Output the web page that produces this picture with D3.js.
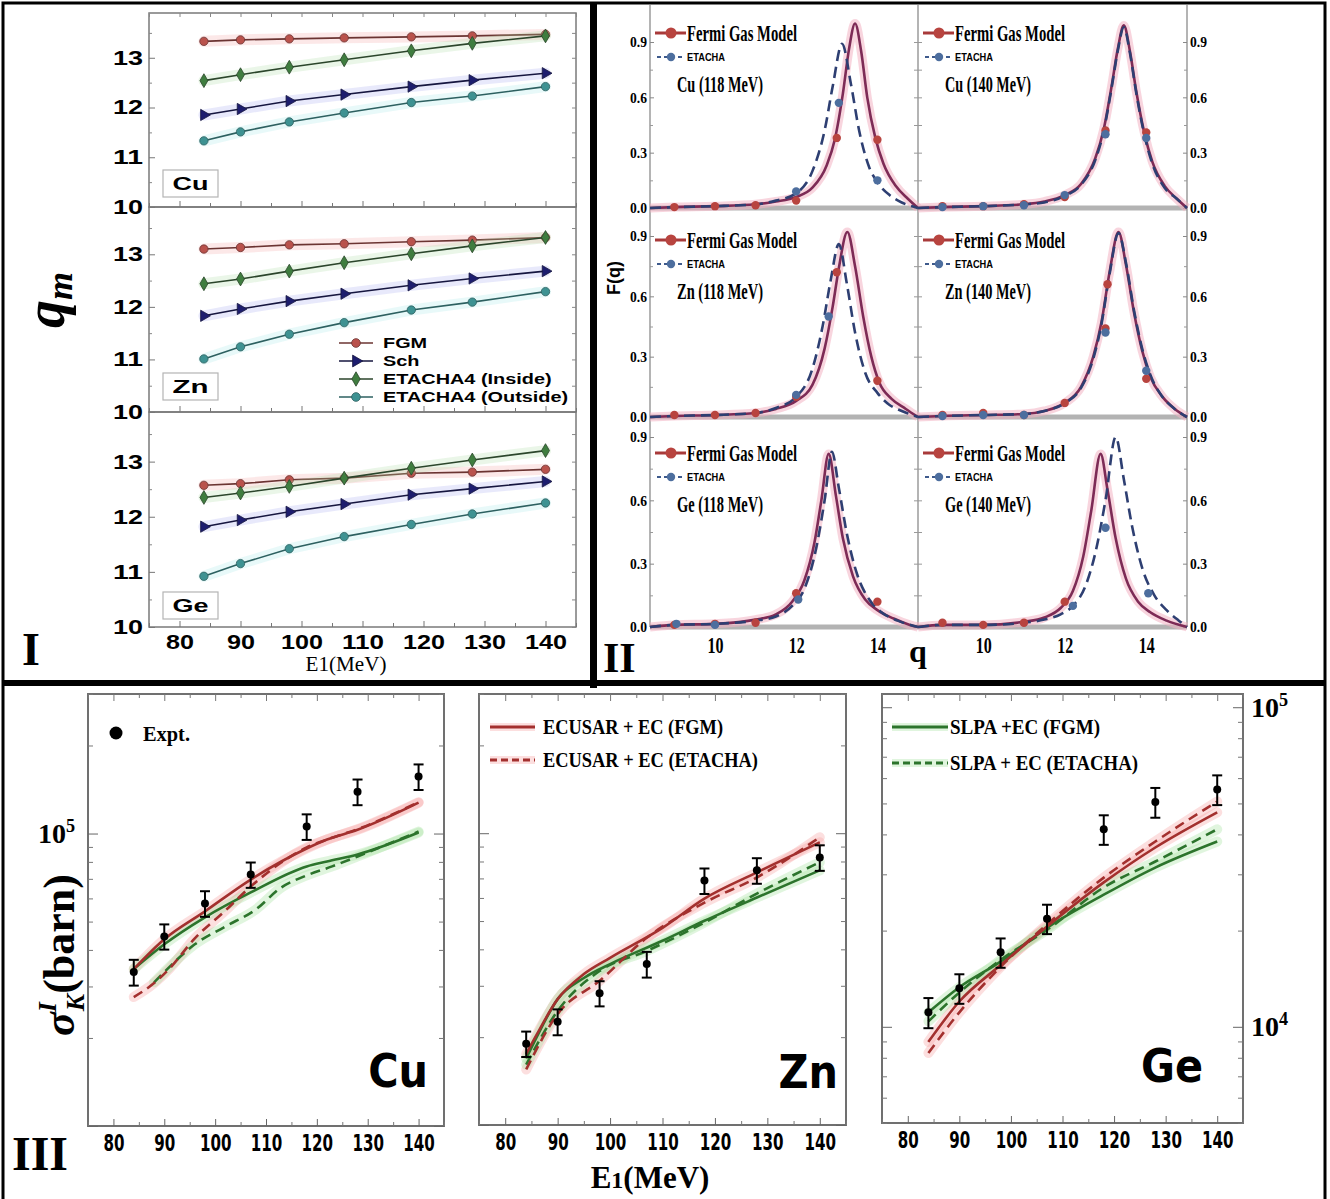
<!DOCTYPE html>
<html>
<head>
<meta charset="utf-8">
<title>q_m, F(q) and sigma_K</title>
<script src="https://cdn.jsdelivr.net/npm/d3@7/dist/d3.min.js"></script>
<style>
  body { margin: 0; background: #fff; }
  svg { display: block; }
</style>
</head>
<body>
<div id="fig"></div>
<script>
// ---------- panel I : mean charge state q_m vs E1 ----------
const energies = [84, 90, 98, 107, 118, 128, 140];
const qmSeries = ["FGM", "Sch", "ETACHA4 (Inside)", "ETACHA4 (Outside)"];
const qmCuFGM = [13.33, 13.36, 13.38, 13.40, 13.42, 13.44, 13.47];
const qmCuSch = [11.85, 11.97, 12.13, 12.26, 12.42, 12.55, 12.69];
const qmCuIn  = [12.54, 12.66, 12.81, 12.96, 13.14, 13.29, 13.44];
const qmCuOut = [11.33, 11.51, 11.71, 11.89, 12.10, 12.23, 12.42];
const qmZnFGM = [13.10, 13.13, 13.18, 13.20, 13.24, 13.27, 13.32];
const qmZnSch = [11.83, 11.96, 12.11, 12.25, 12.41, 12.54, 12.68];
const qmZnIn  = [12.44, 12.53, 12.68, 12.84, 13.01, 13.16, 13.32];
const qmZnOut = [11.01, 11.24, 11.48, 11.70, 11.94, 12.09, 12.29];
const qmGeFGM = [12.57, 12.60, 12.67, 12.70, 12.79, 12.81, 12.86];
const qmGeSch = [11.82, 11.94, 12.09, 12.23, 12.40, 12.51, 12.64];
const qmGeIn  = [12.35, 12.43, 12.55, 12.70, 12.88, 13.03, 13.20];
const qmGeOut = [10.92, 11.15, 11.42, 11.64, 11.86, 12.05, 12.25];
const eTicks = [80, 90, 100, 110, 120, 130, 140];
const eMinor = [75, 85, 95, 105, 115, 125, 135, 145];
const qmTicks = [10, 11, 12, 13];
const qmMinor = [10.5, 11.5, 12.5, 13.5];

// ---------- panel II : charge state fractions F(q) ----------
const fTicks = [0, 0.3, 0.6, 0.9];
const fMinor = [0.15, 0.45, 0.75];
const qTicks = [10, 12, 14];
const fqTags = ["Cu (118 MeV)", "Cu (140 MeV)", "Zn (118 MeV)", "Zn (140 MeV)", "Ge (118 MeV)", "Ge (140 MeV)"];
const fqCu118Fgm = [[8.4,0],[9,0.005],[10,0.01],[11,0.02],[11.5,0.035],[12,0.06],[12.4,0.11],[12.75,0.23],[12.95,0.37],[13.15,0.62],[13.3,0.86],[13.45,1.0],[13.6,0.85],[13.75,0.6],[13.95,0.38],[14.15,0.24],[14.45,0.12],[14.75,0.05],[15,0]];
const fqCu118Eta = [[8.4,0],[9,0.005],[10,0.01],[11,0.02],[11.5,0.04],[12,0.08],[12.4,0.2],[12.7,0.42],[12.9,0.66],[13.13,0.89],[13.35,0.67],[13.55,0.42],[13.8,0.22],[14,0.14],[14.3,0.07],[14.6,0.03],[15,0]];
const ptCu118Fgm = [[9,0.005],[10,0.01],[11,0.015],[12,0.04],[13,0.38],[14,0.37]];
const ptCu118Eta = [[12,0.09],[13.05,0.57],[14,0.15]];
const fqCu140Fgm = [[8.4,0],[9,0.005],[10,0.01],[11,0.02],[11.5,0.035],[12,0.07],[12.4,0.13],[12.75,0.27],[12.95,0.42],[13.15,0.66],[13.3,0.86],[13.45,0.99],[13.6,0.85],[13.75,0.64],[13.95,0.41],[14.15,0.25],[14.45,0.12],[14.75,0.05],[15,0]];
const fqCu140Eta = [[8.4,0],[9,0.005],[10,0.01],[11,0.02],[11.5,0.03],[12,0.065],[12.4,0.125],[12.75,0.26],[12.95,0.41],[13.15,0.65],[13.3,0.85],[13.45,0.98],[13.6,0.84],[13.75,0.63],[13.95,0.4],[14.15,0.24],[14.45,0.11],[14.75,0.05],[15,0]];
const ptCu140Fgm = [[9,0.01],[10,0.01],[11,0.02],[12,0.06],[13,0.42],[14,0.41]];
const ptCu140Eta = [[9,0.005],[10,0.01],[11,0.015],[12,0.07],[13,0.4],[14,0.38]];
const fqZn118Fgm = [[8.4,0],[9,0.005],[10,0.01],[11,0.02],[11.5,0.04],[12,0.08],[12.4,0.16],[12.7,0.34],[12.9,0.55],[13.05,0.74],[13.26,0.92],[13.45,0.75],[13.65,0.5],[13.85,0.3],[14.05,0.17],[14.35,0.09],[14.7,0.04],[15,0]];
const fqZn118Eta = [[8.4,0],[9,0.005],[10,0.01],[11,0.02],[11.5,0.045],[12,0.1],[12.4,0.24],[12.65,0.45],[12.85,0.68],[13.05,0.86],[13.25,0.66],[13.45,0.42],[13.7,0.22],[14,0.12],[14.3,0.06],[14.6,0.03],[15,0]];
const ptZn118Fgm = [[9,0.01],[10,0.01],[11,0.02],[12,0.1],[13,0.72],[14,0.18]];
const ptZn118Eta = [[12,0.11],[12.8,0.5]];
const fqZn140Fgm = [[8.4,0],[9,0.005],[10,0.01],[11,0.015],[11.5,0.03],[12,0.07],[12.4,0.15],[12.7,0.3],[12.9,0.47],[13.1,0.72],[13.32,0.92],[13.5,0.76],[13.7,0.52],[13.9,0.33],[14.1,0.2],[14.4,0.1],[14.7,0.04],[15,0]];
const fqZn140Eta = [[8.4,0],[9,0.005],[10,0.01],[11,0.015],[11.5,0.03],[12,0.068],[12.4,0.145],[12.7,0.29],[12.9,0.46],[13.1,0.71],[13.32,0.915],[13.5,0.77],[13.7,0.53],[13.9,0.34],[14.1,0.21],[14.4,0.1],[14.7,0.04],[15,0]];
const ptZn140Fgm = [[9,0.01],[10,0.02],[11,0.01],[12,0.07],[13,0.44],[13.05,0.66],[14,0.19]];
const ptZn140Eta = [[9,0.005],[10,0.01],[11,0.01],[13,0.42],[14,0.23]];
const fqGe118Fgm = [[8.4,0],[9,0.01],[10,0.015],[11,0.035],[11.5,0.06],[11.9,0.12],[12.2,0.22],[12.45,0.4],[12.62,0.6],[12.8,0.82],[12.98,0.62],[13.15,0.42],[13.4,0.24],[13.7,0.13],[14,0.08],[14.4,0.04],[14.8,0.01],[15,0]];
const fqGe118Eta = [[8.4,0],[9,0.01],[10,0.015],[11,0.03],[11.5,0.05],[11.9,0.1],[12.2,0.18],[12.5,0.38],[12.7,0.6],[12.88,0.83],[13.05,0.66],[13.25,0.44],[13.5,0.25],[13.8,0.13],[14.1,0.07],[14.5,0.03],[15,0]];
const ptGe118Fgm = [[9,0.01],[10,0.015],[11,0.02],[12,0.16],[14,0.12]];
const ptGe118Eta = [[9.05,0.015],[10,0.01],[12.05,0.13]];
const fqGe140Fgm = [[8.4,0],[9,0.01],[10,0.01],[11,0.025],[11.5,0.045],[11.9,0.09],[12.2,0.17],[12.45,0.33],[12.65,0.55],[12.88,0.82],[13.05,0.65],[13.25,0.42],[13.5,0.23],[13.8,0.12],[14.1,0.07],[14.5,0.03],[15,0]];
const fqGe140Eta = [[8.4,0],[9,0.01],[10,0.01],[11,0.02],[11.5,0.035],[11.9,0.06],[12.2,0.1],[12.5,0.19],[12.75,0.35],[13,0.6],[13.25,0.9],[13.45,0.7],[13.65,0.48],[13.9,0.28],[14.2,0.15],[14.5,0.08],[14.8,0.03],[15,0]];
const ptGe140Fgm = [[9,0.02],[10,0.01],[11,0.02],[12,0.12]];
const ptGe140Eta = [[12.2,0.1],[13,0.47],[14.05,0.16]];

// ---------- panel III : K-shell ionisation cross sections (barn) ----------
const expCu = [33600, 44500, 57700, 72400, 105700, 139000, 156600];
const errCu = [3400, 4400, 5800, 7200, 10600, 14000, 15700];
const cuEcusarFgm = [[84,34400],[90,43500],[98,54200],[107,69600],[118,88900],[122,95400],[128,103000],[140,127500]];
const cuEcusarEta = [[84,27600],[88,30800],[91,34500],[96,43800],[102,54500],[107,65900],[113,79600],[118,89600],[122,95400],[128,103500],[140,128000]];
const cuSlpaFgm = [[84,34400],[90,41800],[98,51700],[107,62900],[118,77200],[122,80300],[128,84800],[140,100800]];
const cuSlpaEta = [[88,31000],[90,33600],[96,41800],[102,48100],[108,55000],[113,65400],[118,71900],[123,77200],[128,83500],[140,101600]];
const expZn = [19000, 22600, 28300, 35600, 68800, 74600, 82600];
const errZn = [1900, 2300, 2800, 3600, 6900, 7500, 8300];
const znEcusarFgm = [[84,17500],[86,20400],[90,27000],[95,32900],[100,37400],[110,47400],[118,59700],[128,73400],[140,93100]];
const znEcusarEta = [[84,15500],[90,24000],[98,31200],[107,43800],[118,57800],[128,70500],[140,96900]];
const znSlpaFgm = [[84,16900],[86,20000],[90,27000],[95,31900],[100,35600],[110,42800],[118,50100],[128,60200],[140,74600]];
const znSlpaEta = [[84,16100],[90,24600],[98,33700],[107,39500],[118,49400],[128,62100],[140,79500]];
const expGe = [11100, 13200, 17100, 21800, 41500, 50500, 55300];
const errGe = [1200, 1400, 1800, 2300, 4400, 5400, 5900];
const geEcusarFgm = [[84,8970],[90,12000],[98,15600],[107,20600],[118,28300],[128,36400],[140,46900]];
const geEcusarEta = [[84,8280],[90,11100],[98,15400],[107,20900],[118,29300],[128,38000],[140,50700]];
const geSlpaFgm = [[84,11100],[90,13300],[98,16000],[107,20400],[118,25900],[128,31500],[140,38000]];
const geSlpaEta = [[84,10400],[90,12800],[98,16200],[107,20100],[118,27300],[128,32900],[140,41500]];
const modelNames = ["ECUSAR + EC (FGM)", "ECUSAR + EC (ETACHA)", "SLPA +EC (FGM)", "SLPA + EC (ETACHA)"];

// ---------- setup ----------
const width = 1330, height = 1199;
const serif = "'Liberation Serif', 'Times New Roman', serif";
const sans = "'Liberation Sans', Arial, sans-serif";
const narrow = "'Liberation Sans Narrow', 'Arial Narrow', 'DejaVu Sans Condensed', sans-serif";

const svg = d3.select("#fig").append("svg")
    .attr("width", width)
    .attr("height", height);
svg.append("rect").attr("width", width).attr("height", height).attr("fill", "white");

// plain text helper, len squeezes/stretches to a given width
function txt(g, x, y, s, size, font, opt = {}) {
  const t = g.append("text").attr("x", x).attr("y", y).text(s)
      .attr("font-size", size).attr("font-family", font)
      .attr("font-weight", opt.weight || "bold")
      .attr("text-anchor", opt.anchor || "start")
      .attr("fill", opt.color || "black");
  if (opt.len) t.attr("textLength", opt.len).attr("lengthAdjust", "spacingAndGlyphs");
  return t;
}
function cleanAxis(g, color) {
  g.select(".domain").remove();
  g.selectAll(".tick line").attr("stroke", color);
  return g;
}

// =================== PANEL I ===================
const gI = svg.append("g");
const xI = d3.scaleLinear().domain([75, 145]).range([149, 576]);
const qmPanels = [
  {el: "Cu", top: 13, bottom: 207, tagY: 170, series: [qmCuFGM, qmCuSch, qmCuIn, qmCuOut]},
  {el: "Zn", top: 207, bottom: 412, tagY: 373, series: [qmZnFGM, qmZnSch, qmZnIn, qmZnOut]},
  {el: "Ge", top: 412, bottom: 627, tagY: 592, series: [qmGeFGM, qmGeSch, qmGeIn, qmGeOut]}
];
const qmLook = [
  {fill: "#b9524c", line: "#6b3432", halo: "#f4a4a4", sym: d3.symbolCircle, rot: 0},
  {fill: "#1d1d6e", line: "#16163f", halo: "#a4a8f0", sym: d3.symbolTriangle, rot: 90},
  {fill: "#3f7d3f", line: "#2b452b", halo: "#acdca4", sym: d3.symbolDiamond, rot: 0},
  {fill: "#3e9292", line: "#2d6060", halo: "#a4e6e8", sym: d3.symbolCircle, rot: 0}
];

qmPanels.forEach((p, pi) => {
  const y = d3.scaleLinear().domain([10, 13.9]).range([p.bottom, p.top]);
  const g = gI.append("g");

  g.append("rect").attr("x", 149).attr("y", p.top).attr("width", 427).attr("height", p.bottom - p.top)
      .attr("fill", "none").attr("stroke", "#7a7a7a").attr("stroke-width", 1.5);

  // inward ticks on all sides
  cleanAxis(g.append("g").attr("transform", "translate(149,0)")
      .call(d3.axisLeft(y).tickValues(qmMinor).tickSize(-3).tickFormat("")), "#888");
  cleanAxis(g.append("g").attr("transform", "translate(576,0)")
      .call(d3.axisRight(y).tickValues(qmTicks.concat(qmMinor)).tickSize(-4).tickFormat("")), "#888");
  cleanAxis(g.append("g").attr("transform", `translate(0,${p.bottom})`)
      .call(d3.axisBottom(xI).tickValues(eMinor).tickSize(-4).tickFormat("")), "#777");
  const yAx = cleanAxis(g.append("g").attr("transform", "translate(149,0)")
      .call(d3.axisLeft(y).tickValues(qmTicks).tickSize(-6).tickPadding(6).tickFormat(d3.format("d"))), "#777");
  yAx.selectAll("text").attr("font-family", sans).attr("font-weight", "bold").attr("font-size", 20)
      .attr("textLength", d => String(d).length * 15).attr("lengthAdjust", "spacingAndGlyphs");
  const xAx = cleanAxis(g.append("g").attr("transform", `translate(0,${p.bottom})`)
      .call(d3.axisBottom(xI).tickValues(eTicks).tickSize(-6).tickPadding(7)
        .tickFormat(pi === 2 ? d3.format("d") : "")), "#777");
  xAx.selectAll("text").attr("font-family", sans).attr("font-weight", "bold").attr("font-size", 21)
      .attr("textLength", d => String(d).length * 14).attr("lengthAdjust", "spacingAndGlyphs");
  if (pi === 0) {
    cleanAxis(g.append("g").attr("transform", `translate(0,${p.top})`)
        .call(d3.axisTop(xI).tickValues(eTicks.concat(eMinor)).tickSize(-4).tickFormat("")), "#888");
  }

  // series
  p.series.forEach((vals, si) => {
    const look = qmLook[si];
    const line = d3.line().x((d, i) => xI(energies[i])).y(d => y(d));
    g.append("path").attr("d", line(vals)).attr("fill", "none")
        .attr("stroke", look.halo).attr("stroke-width", 11).attr("stroke-opacity", 0.25)
        .attr("stroke-linecap", "round");
    g.append("path").attr("d", line(vals)).attr("fill", "none")
        .attr("stroke", look.line).attr("stroke-width", 1.6);
    g.selectAll(null).data(vals).join("path")
        .attr("d", d3.symbol(look.sym, 55))
        .attr("transform", (d, i) => `translate(${xI(energies[i])},${y(d)}) rotate(${look.rot})`)
        .attr("fill", look.fill).attr("stroke", look.line).attr("stroke-width", 0.8);
  });

  // element tag box
  g.append("rect").attr("x", 163).attr("y", p.tagY).attr("width", 55).attr("height", 27)
      .attr("fill", "white").attr("stroke", "#b4b4b4").attr("stroke-width", 1.2);
  txt(g, 190.5, p.tagY + 20, p.el, 18, sans, {anchor: "middle", len: 36});

  // legend sits in the Zn frame
  if (pi === 1) {
    qmSeries.forEach((name, si) => {
      const look = qmLook[si];
      const ly = 343 + si * 18;
      g.append("line").attr("x1", 339).attr("x2", 373).attr("y1", ly).attr("y2", ly)
          .attr("stroke", look.line).attr("stroke-width", 1.6);
      g.append("path").attr("d", d3.symbol(look.sym, 60))
          .attr("transform", `translate(356,${ly}) rotate(${look.rot})`)
          .attr("fill", look.fill).attr("stroke", look.line).attr("stroke-width", 0.8);
      const t = txt(g, 383, ly + 5, name, 14, sans);
      t.attr("textLength", t.node().getComputedTextLength() * 1.42).attr("lengthAdjust", "spacingAndGlyphs");
    });
  }
});

const qmLab = gI.append("text").attr("transform", "translate(64,300) rotate(-90)")
    .attr("text-anchor", "middle").attr("font-family", serif).attr("font-weight", "bold")
    .attr("font-style", "italic").attr("font-size", 56);
qmLab.append("tspan").text("q");
qmLab.append("tspan").attr("font-size", 36).attr("dy", 8).text("m");
txt(gI, 22, 665, "I", 46, serif);
txt(gI, 346, 671, "E1(MeV)", 20, serif, {anchor: "middle", weight: "normal", len: 81});

// =================== PANEL II ===================
const gII = svg.append("g");
const rowsII = [
  {top: 5, zero: 208, f09: 42, leg: 33},
  {top: 208, zero: 417, f09: 236, leg: 240},
  {top: 417, zero: 627, f09: 437, leg: 453}
];
const colsII = [
  d3.scaleLinear().domain([8.4, 15]).range([650, 918]),
  d3.scaleLinear().domain([8.4, 15]).range([918, 1187])
];
const fqCells = [
  [fqCu118Fgm, fqCu118Eta, ptCu118Fgm, ptCu118Eta],
  [fqCu140Fgm, fqCu140Eta, ptCu140Fgm, ptCu140Eta],
  [fqZn118Fgm, fqZn118Eta, ptZn118Fgm, ptZn118Eta],
  [fqZn140Fgm, fqZn140Eta, ptZn140Fgm, ptZn140Eta],
  [fqGe118Fgm, fqGe118Eta, ptGe118Fgm, ptGe118Eta],
  [fqGe140Fgm, fqGe140Eta, ptGe140Fgm, ptGe140Eta]
];

rowsII.forEach(r => {
  gII.append("line").attr("x1", 650).attr("x2", 1187).attr("y1", r.zero).attr("y2", r.zero)
      .attr("stroke", "#b3b3b3").attr("stroke-width", 5);
});
[650, 918, 1187].forEach(xv => {
  gII.append("line").attr("x1", xv).attr("x2", xv).attr("y1", 5).attr("y2", 627)
      .attr("stroke", "#8c8c8c").attr("stroke-width", 1.3);
});

rowsII.forEach((r, ri) => {
  const y = d3.scaleLinear().domain([0, 0.9]).range([r.zero, r.f09]);
  const left = cleanAxis(gII.append("g").attr("transform", "translate(650,0)")
      .call(d3.axisLeft(y).tickValues(fTicks).tickFormat(d3.format(".1f")).tickSize(-4).tickPadding(3)), "#888");
  const right = cleanAxis(gII.append("g").attr("transform", "translate(1187,0)")
      .call(d3.axisRight(y).tickValues(fTicks).tickFormat(d3.format(".1f")).tickSize(-4).tickPadding(3)), "#888");
  [left, right].forEach(a => a.selectAll("text").attr("font-family", serif).attr("font-weight", "bold")
      .attr("font-size", 15).attr("textLength", 17).attr("lengthAdjust", "spacingAndGlyphs"));
  cleanAxis(gII.append("g").attr("transform", "translate(650,0)")
      .call(d3.axisLeft(y).tickValues(fMinor).tickSize(-3).tickFormat("")), "#999");
  cleanAxis(gII.append("g").attr("transform", "translate(1187,0)")
      .call(d3.axisRight(y).tickValues(fMinor).tickSize(-3).tickFormat("")), "#999");
  cleanAxis(gII.append("g").attr("transform", "translate(918,0)")
      .call(d3.axisLeft(y).tickValues(fTicks.concat(fMinor)).tickSize(4).tickFormat("")), "#999");
  cleanAxis(gII.append("g").attr("transform", "translate(918,0)")
      .call(d3.axisRight(y).tickValues(fTicks.concat(fMinor)).tickSize(4).tickFormat("")), "#999");

  colsII.forEach((xs, ci) => {
    const [fgm, eta, pf, pe] = fqCells[ri * 2 + ci];
    const line = d3.line().x(d => xs(d[0])).y(d => y(d[1])).curve(d3.curveMonotoneX);
    const g = gII.append("g");
    g.append("path").attr("d", line(fgm)).attr("fill", "none")
        .attr("stroke", "#f2b3c3").attr("stroke-width", 9).attr("stroke-opacity", 0.55);
    g.append("path").attr("d", line(fgm)).attr("fill", "none")
        .attr("stroke", "#7d2b56").attr("stroke-width", 2.6);
    g.append("path").attr("d", line(eta)).attr("fill", "none")
        .attr("stroke", "#2e3f72").attr("stroke-width", 2.6).attr("stroke-dasharray", "11,6");
    g.selectAll(null).data(pf).join("circle")
        .attr("cx", d => xs(d[0])).attr("cy", d => y(d[1])).attr("r", 4.2).attr("fill", "#b8443f");
    g.selectAll(null).data(pe).join("circle")
        .attr("cx", d => xs(d[0])).attr("cy", d => y(d[1])).attr("r", 4.2).attr("fill", "#4d6e9e");

    // legend
    const x0 = xs.range()[0];
    g.append("line").attr("x1", x0 + 5).attr("x2", x0 + 36).attr("y1", r.leg).attr("y2", r.leg)
        .attr("stroke", "#a83a3a").attr("stroke-width", 3);
    g.append("circle").attr("cx", x0 + 21).attr("cy", r.leg).attr("r", 5.5).attr("fill", "#b8443f");
    txt(g, x0 + 37, r.leg + 8, "Fermi Gas Model", 23, serif, {len: 110});
    g.append("line").attr("x1", x0 + 7).attr("x2", x0 + 34).attr("y1", r.leg + 24).attr("y2", r.leg + 24)
        .attr("stroke", "#3e5a8c").attr("stroke-width", 2).attr("stroke-dasharray", "4,3");
    g.append("circle").attr("cx", x0 + 21).attr("cy", r.leg + 24).attr("r", 4.2).attr("fill", "#4d6e9e");
    txt(g, x0 + 37, r.leg + 28, "ETACHA", 11, sans, {len: 38});
    txt(g, x0 + 27, r.leg + 59, fqTags[ri * 2 + ci], 23, serif, {len: 86});
  });
});

colsII.forEach(xs => {
  const ax = gII.append("g").attr("transform", "translate(0,627)")
      .call(d3.axisBottom(xs).tickValues(qTicks).tickSize(0).tickPadding(9).tickFormat(d3.format("d")));
  ax.select(".domain").remove();
  ax.selectAll("text").attr("font-family", serif).attr("font-weight", "bold").attr("font-size", 24)
      .attr("textLength", 16).attr("lengthAdjust", "spacingAndGlyphs");
});
gII.append("text").attr("transform", "translate(620,278) rotate(-90)").attr("text-anchor", "middle")
    .attr("font-family", sans).attr("font-weight", "bold").attr("font-size", 18).text("F(q)");
txt(gII, 918, 662, "q", 32, serif, {anchor: "middle"});
txt(gII, 603, 672, "II", 42, serif);

// =================== PANEL III ===================
const gIII = svg.append("g");
const sigmaPanels = [
  {el: "Cu", x0: 88, x1: 444, top: 694, bottom: 1126, dom: [1e4, 3e5], tagX: 428, tagY: 1087,
   exp: expCu, err: errCu, models: [cuEcusarFgm, cuEcusarEta, cuSlpaFgm, cuSlpaEta]},
  {el: "Zn", x0: 479, x1: 846, top: 694, bottom: 1125, dom: [1e4, 3e5], tagX: 838, tagY: 1088,
   exp: expZn, err: errZn, models: [znEcusarFgm, znEcusarEta, znSlpaFgm, znSlpaEta]},
  {el: "Ge", x0: 882, x1: 1243, top: 694, bottom: 1123, dom: [5e3, 1.1e5], tagX: 1203, tagY: 1082,
   exp: expGe, err: errGe, models: [geEcusarFgm, geEcusarEta, geSlpaFgm, geSlpaEta]}
];
const modelLook = [
  {core: "#a3302e", halo: "#f5a3a3", dash: null},
  {core: "#a3302e", halo: "#f5a3a3", dash: "10,6"},
  {core: "#2c742c", halo: "#a6e3a0", dash: null},
  {core: "#2c742c", halo: "#a6e3a0", dash: "10,6"}
];

function supText(sel) {
  sel.selectAll("text").each(function (d) {
    const t = d3.select(this).text(null);
    t.append("tspan").text("10");
    t.append("tspan").attr("dy", "-0.6em").attr("font-size", "0.65em").text(Math.round(Math.log10(d)));
  }).attr("font-family", serif).attr("font-weight", "bold").attr("font-size", 28);
}

sigmaPanels.forEach((p, pi) => {
  const g = gIII.append("g");
  const x = d3.scaleLinear().domain([75, 145]).range([p.x0, p.x1]);
  const y = d3.scaleLog().domain(p.dom).range([p.bottom, p.top]);
  const all = y.ticks();
  const major = all.filter(v => Number.isInteger(Math.log10(v)));
  const minor = all.filter(v => !Number.isInteger(Math.log10(v)));

  g.append("rect").attr("x", p.x0).attr("y", p.top).attr("width", p.x1 - p.x0).attr("height", p.bottom - p.top)
      .attr("fill", "none").attr("stroke", "#707070").attr("stroke-width", 2);
  [[d3.axisLeft, p.x0], [d3.axisRight, p.x1]].forEach(([fn, xv]) => {
    cleanAxis(g.append("g").attr("transform", `translate(${xv},0)`)
        .call(fn(y).tickValues(minor).tickSize(-5).tickFormat("")), "#777");
    cleanAxis(g.append("g").attr("transform", `translate(${xv},0)`)
        .call(fn(y).tickValues(major).tickSize(-10).tickFormat("")), "#666");
  });
  cleanAxis(g.append("g").attr("transform", `translate(0,${p.top})`)
      .call(d3.axisTop(x).tickValues(eTicks).tickSize(-7).tickFormat("")), "#777");
  cleanAxis(g.append("g").attr("transform", `translate(0,${p.top})`)
      .call(d3.axisTop(x).tickValues(eMinor).tickSize(-4).tickFormat("")), "#777");
  cleanAxis(g.append("g").attr("transform", `translate(0,${p.bottom})`)
      .call(d3.axisBottom(x).tickValues(eMinor).tickSize(-4).tickFormat("")), "#777");
  const xAx = cleanAxis(g.append("g").attr("transform", `translate(0,${p.bottom})`)
      .call(d3.axisBottom(x).tickValues(eTicks).tickSize(-7).tickPadding(9)), "#666");
  xAx.selectAll("text").attr("font-family", narrow).attr("font-weight", "bold").attr("font-size", 23)
      .attr("textLength", d => String(d).length * 10.5).attr("lengthAdjust", "spacingAndGlyphs");

  if (pi === 0) {
    const a = g.append("g").attr("transform", `translate(${p.x0},0)`)
        .call(d3.axisLeft(y).tickValues([1e5]).tickSize(0).tickPadding(13));
    a.select(".domain").remove();
    supText(a);
  }
  if (pi === 2) {
    const a = g.append("g").attr("transform", `translate(${p.x1},0)`)
        .call(d3.axisRight(y).tickValues([1e4, 1e5]).tickSize(0).tickPadding(8));
    a.select(".domain").remove();
    supText(a);
  }

  // model curves: halos, then green under red
  const line = d3.line().x(d => x(d[0])).y(d => y(d[1])).curve(d3.curveMonotoneX);
  p.models.forEach((m, mi) => {
    g.append("path").attr("d", line(m)).attr("fill", "none")
        .attr("stroke", modelLook[mi].halo).attr("stroke-width", 10).attr("stroke-opacity", 0.35)
        .attr("stroke-linecap", "round");
  });
  [3, 2, 1, 0].forEach(mi => {
    g.append("path").attr("d", line(p.models[mi])).attr("fill", "none")
        .attr("stroke", modelLook[mi].core).attr("stroke-width", 2.6)
        .attr("stroke-dasharray", modelLook[mi].dash);
  });

  // experimental points with error bars
  const pts = energies.map((e, i) => ({e, v: p.exp[i], s: p.err[i]}));
  const bars = g.selectAll(null).data(pts).join("g").attr("stroke", "black").attr("stroke-width", 2);
  bars.append("line").attr("x1", d => x(d.e)).attr("x2", d => x(d.e))
      .attr("y1", d => y(d.v - d.s)).attr("y2", d => y(d.v + d.s));
  bars.append("line").attr("x1", d => x(d.e) - 5).attr("x2", d => x(d.e) + 5)
      .attr("y1", d => y(d.v - d.s)).attr("y2", d => y(d.v - d.s));
  bars.append("line").attr("x1", d => x(d.e) - 5).attr("x2", d => x(d.e) + 5)
      .attr("y1", d => y(d.v + d.s)).attr("y2", d => y(d.v + d.s));
  g.selectAll(null).data(pts).join("circle")
      .attr("cx", d => x(d.e)).attr("cy", d => y(d.v)).attr("r", 4).attr("fill", "black");

  txt(g, p.tagX, p.tagY, p.el, 46, narrow, {anchor: "end"});
});

// panel III legends
txt(gIII, 143, 741, "Expt.", 21, serif, {len: 47});
gIII.append("circle").attr("cx", 116).attr("cy", 733).attr("r", 6.5).attr("fill", "black");
[[0, 490, 535, 727, 543, 180], [1, 490, 535, 760, 543, 215], [2, 892, 948, 727, 950, 150], [3, 892, 948, 763, 950, 188]]
  .forEach(([mi, a, b, ly, tx, len]) => {
    const look = modelLook[mi];
    gIII.append("line").attr("x1", a).attr("x2", b).attr("y1", ly).attr("y2", ly)
        .attr("stroke", look.halo).attr("stroke-width", 8).attr("stroke-opacity", 0.35);
    gIII.append("line").attr("x1", a).attr("x2", b).attr("y1", ly).attr("y2", ly)
        .attr("stroke", look.core).attr("stroke-width", 3).attr("stroke-dasharray", look.dash ? "7,4" : null);
    txt(gIII, tx, ly + 7, modelNames[mi], 21, serif, {len: len});
  });

const sig = gIII.append("text").attr("transform", "translate(74,955) rotate(-90)")
    .attr("text-anchor", "middle").attr("font-family", serif).attr("font-weight", "bold").attr("font-size", 44);
sig.append("tspan").attr("font-style", "italic").text("σ");
sig.append("tspan").attr("font-style", "italic").attr("font-size", 26).attr("dy", -18).text("I");
sig.append("tspan").attr("font-style", "italic").attr("font-size", 26).attr("dx", -9).attr("dy", 28).text("K");
sig.append("tspan").attr("dy", -10).text("(barn)");
txt(gIII, 12, 1170, "III", 48, serif);
const eLab = txt(gIII, 650, 1188, "E", 31, serif, {anchor: "middle"});
eLab.append("tspan").attr("font-size", 24).text("1");
eLab.append("tspan").text("(MeV)");

// =================== frame and dividers ===================
svg.append("rect").attr("x", 3).attr("y", 3).attr("width", 1322).attr("height", 1215)
    .attr("fill", "none").attr("stroke", "black").attr("stroke-width", 3);
svg.append("rect").attr("x", 590).attr("y", 3).attr("width", 7).attr("height", 685).attr("fill", "black");
svg.append("rect").attr("x", 3).attr("y", 680).attr("width", 1322).attr("height", 6).attr("fill", "black");
</script>
</body>
</html>
